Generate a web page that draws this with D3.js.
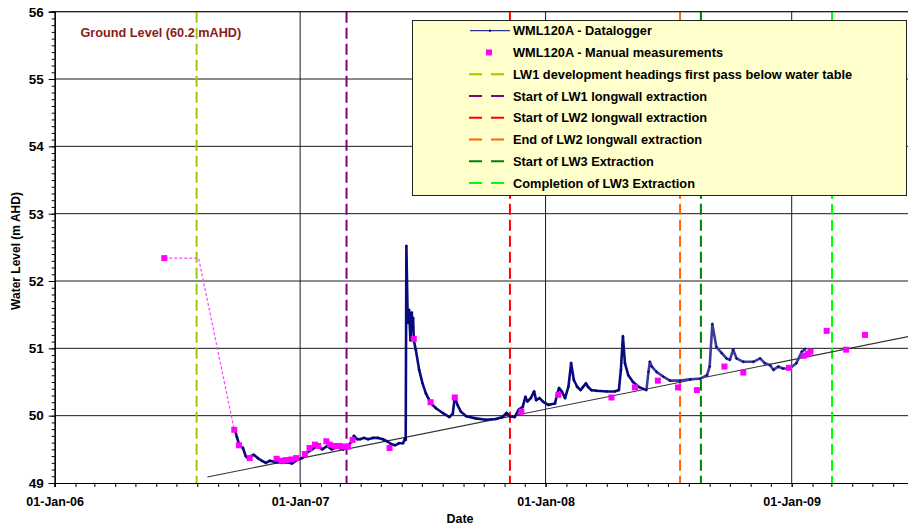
<!DOCTYPE html>
<html><head><meta charset="utf-8">
<script src="https://cdn.jsdelivr.net/npm/d3@7/dist/d3.min.js"></script>
<style>
html,body{margin:0;padding:0;background:#fff;}
svg{display:block;font-family:"Liberation Sans",Arial,sans-serif;}
</style></head>
<body><svg id="c" width="908" height="528"></svg>
<script>
// ---------- DATA ----------
const loggerDates = ["2006-09-26","2006-09-29","2006-10-03","2006-10-08","2006-10-12","2006-10-15","2006-10-20","2006-10-24","2006-10-30","2006-11-05","2006-11-11","2006-11-17","2006-11-26","2006-12-05","2006-12-12","2006-12-20","2006-12-27","2007-01-04","2007-01-11","2007-01-19","2007-01-26","2007-02-03","2007-02-10","2007-02-17","2007-02-25","2007-03-06","2007-03-13","2007-03-19","2007-03-22","2007-03-27","2007-03-31","2007-04-06","2007-04-12","2007-04-19","2007-04-27","2007-05-04","2007-05-10","2007-05-16","2007-05-22","2007-05-28","2007-06-03","2007-06-06","2007-06-07","2007-06-08","2007-06-10","2007-06-12","2007-06-14","2007-06-16","2007-06-17","2007-06-18","2007-06-19","2007-06-22","2007-06-27","2007-07-02","2007-07-07","2007-07-12","2007-07-17","2007-07-22","2007-08-01","2007-08-11","2007-08-16","2007-08-19","2007-08-23","2007-08-28","2007-09-05","2007-09-19","2007-10-04","2007-10-19","2007-10-29","2007-11-04","2007-11-09","2007-11-16","2007-11-22","2007-11-28","2007-12-02","2007-12-05","2007-12-10","2007-12-15","2007-12-18","2007-12-23","2007-12-28","2008-01-05","2008-01-15","2008-01-18","2008-01-21","2008-01-25","2008-01-30","2008-02-04","2008-02-08","2008-02-12","2008-02-17","2008-02-22","2008-02-26","2008-03-01","2008-03-04","2008-03-09","2008-03-17","2008-04-01","2008-04-13","2008-04-19","2008-04-22","2008-04-25","2008-04-28","2008-05-03","2008-05-10","2008-05-20","2008-05-30","2008-06-02","2008-06-04","2008-06-07","2008-06-14","2008-06-24","2008-07-04","2008-07-19","2008-08-03","2008-08-18","2008-08-28","2008-09-01","2008-09-05","2008-09-11","2008-09-19","2008-09-26","2008-10-01","2008-10-06","2008-10-11","2008-10-21","2008-11-05","2008-11-15","2008-11-22","2008-11-30","2008-12-05","2008-12-12","2008-12-19","2008-12-29","2009-01-08","2009-01-16","2009-01-21"];
const loggerLevels = [49.79,49.68,49.55,49.52,49.40,49.37,49.40,49.42,49.37,49.33,49.30,49.33,49.31,49.30,49.31,49.29,49.34,49.37,49.45,49.50,49.55,49.50,49.55,49.50,49.53,49.50,49.55,49.62,49.70,49.65,49.65,49.67,49.65,49.67,49.67,49.65,49.62,49.58,49.56,49.59,49.59,49.66,49.64,52.52,51.38,51.57,51.12,51.53,51.32,51.45,51.12,50.98,50.68,50.48,50.33,50.23,50.16,50.11,50.04,49.98,50.03,50.28,50.16,50.06,49.99,49.96,49.94,49.95,49.98,50.04,49.99,49.98,50.09,50.13,50.28,50.21,50.26,50.36,50.23,50.26,50.21,50.16,50.18,50.31,50.41,50.36,50.26,50.43,50.78,50.53,50.43,50.38,50.43,50.48,50.43,50.38,50.37,50.36,50.36,50.38,50.68,51.18,50.78,50.60,50.50,50.42,50.38,50.65,50.80,50.73,50.65,50.58,50.52,50.52,50.54,50.55,50.60,50.73,51.36,51.02,50.93,50.85,50.83,50.98,50.85,50.80,50.80,50.85,50.78,50.75,50.68,50.73,50.70,50.70,50.78,50.95,50.99];

const manualDates = ["2006-06-13","2006-09-25","2006-10-02","2006-10-18","2006-11-27","2006-12-04","2006-12-11","2006-12-19","2006-12-26","2007-01-08","2007-01-15","2007-01-23","2007-01-28","2007-02-09","2007-02-14","2007-02-22","2007-03-01","2007-03-08","2007-03-13","2007-03-20","2007-05-14","2007-06-19","2007-07-14","2007-08-19","2007-11-26","2008-01-20","2008-04-08","2008-05-13","2008-06-16","2008-07-16","2008-08-13","2008-09-23","2008-10-21","2008-12-28","2009-01-19","2009-01-25","2009-01-29","2009-02-22","2009-03-23","2009-04-20"];
const manualLevels = [52.34,49.79,49.56,49.37,49.36,49.33,49.34,49.35,49.37,49.43,49.52,49.57,49.55,49.62,49.57,49.55,49.55,49.54,49.54,49.64,49.52,51.14,50.20,50.27,50.06,50.31,50.27,50.42,50.52,50.42,50.38,50.73,50.64,50.71,50.89,50.92,50.95,51.26,50.98,51.20];

const connectorDates = ["2006-06-13","2006-08-03","2006-09-25"];
const connectorLevels = [52.34,52.34,49.79];

const trendDates = ["2006-08-16","2009-07-01"];
const trendLevels = [49.09,51.19];

const eventDates = ["2006-07-31","2007-03-11","2007-11-09","2008-07-19","2008-08-19","2009-03-02"];
const eventLabels = ["LW1 development headings first pass below water table","Start of LW1 longwall extraction","Start of LW2 longwall extraction","End of LW2 longwall extraction","Start of LW3 Extraction","Completion of LW3 Extraction"];

const seriesLabels = ["WML120A - Datalogger","WML120A - Manual measurements"];
const yTicks = [49,50,51,52,53,54,55,56];
const xTickDates = ["2006-01-01","2007-01-01","2008-01-01","2009-01-01"];
const groundLabel = "Ground Level (60.2 mAHD)";
const xTitle = "Date";
const yTitle = "Water Level (m AHD)";

// ---------- STYLE ----------
const eventColors = ["#99CC00","#800080","#FF0000","#FF6600","#008000","#00FF00"];
const P = d3.utcParse("%Y-%m-%d");
const L = 54.7, R = 913.4, T = 11.7, B = 483;

const svg = d3.select("#c");
svg.append("rect").attr("width",908).attr("height",528).attr("fill","#fff");

const x = d3.scaleUtc().domain([P("2006-01-01"), P("2009-07-01")]).range([L, R]);
const y = d3.scaleLinear().domain([49,56]).range([B, T]);

svg.append("defs").append("clipPath").attr("id","clip")
  .append("rect").attr("x",L).attr("y",T-1).attr("width",R-L).attr("height",B-T+2);

// gridlines
const grid = svg.append("g");
grid.selectAll("line.h").data(yTicks.filter(v=>v>49)).join("line")
  .attr("x1",L).attr("x2",R).attr("y1",d=>y(d)).attr("y2",d=>y(d))
  .attr("stroke","#1a1a1a").attr("stroke-width",1);
grid.selectAll("line.v").data(xTickDates.slice(1)).join("line")
  .attr("x1",d=>x(P(d))).attr("x2",d=>x(P(d))).attr("y1",T).attr("y2",B)
  .attr("stroke","#1a1a1a").attr("stroke-width",1);

// ground label
svg.append("text").attr("x",80.5).attr("y",37).text(groundLabel)
  .attr("fill","#8B1A1A").attr("font-weight","bold").attr("font-size","12.7px");

const plot = svg.append("g").attr("clip-path","url(#clip)");

// event lines
plot.selectAll("line.ev").data(eventDates).join("line")
  .attr("x1",d=>x(P(d))).attr("x2",d=>x(P(d))).attr("y1",T).attr("y2",B)
  .attr("stroke",(d,i)=>eventColors[i]).attr("stroke-width",2)
  .attr("stroke-dasharray","11,5");

// trend line
const trend = trendDates.map((d,i)=>[P(d),trendLevels[i]]);
plot.append("path").datum(trend)
  .attr("d",d3.line().x(d=>x(d[0])).y(d=>y(d[1])))
  .attr("fill","none").attr("stroke","#333").attr("stroke-width",1.1);

// connector
const conn = connectorDates.map((d,i)=>[P(d),connectorLevels[i]]);
plot.append("path").datum(conn)
  .attr("d",d3.line().x(d=>x(d[0])).y(d=>y(d[1])))
  .attr("fill","none").attr("stroke","#FF44FF").attr("stroke-width",1.2)
  .attr("stroke-dasharray","3,2");

// datalogger
const logger = loggerDates.map((d,i)=>[P(d),loggerLevels[i]]);
const split = P("2008-06-01");
const lineGen = d3.line().x(d=>x(d[0])).y(d=>y(d[1]));
const early = logger.filter(d=>d[0] <= split);
const late = logger.filter(d=>d[0] >= P("2008-05-30"));
plot.append("path").datum(early).attr("d",lineGen)
  .attr("fill","none").attr("stroke","#0a0a80").attr("stroke-width",2.6).attr("stroke-linejoin","round");
plot.append("path").datum(late).attr("d",lineGen)
  .attr("fill","none").attr("stroke","#3b3b9c").attr("stroke-width",2.6).attr("stroke-linejoin","round");
plot.selectAll("path.mk").data(logger).join("path")
  .attr("d",d=>`M${x(d[0])-1.5},${y(d[1])}h3M${x(d[0])},${y(d[1])-1.5}v3`)
  .attr("stroke","#000070").attr("stroke-width",0.8);

// manual
const manual = manualDates.map((d,i)=>[P(d),manualLevels[i]]);
plot.selectAll("rect.m").data(manual).join("rect")
  .attr("x",d=>x(d[0])-3).attr("y",d=>y(d[1])-3).attr("width",6).attr("height",6)
  .attr("fill","#FF00FF");

// axes
const yMinor = svg.append("g").attr("transform",`translate(${L},0)`)
  .call(d3.axisLeft(y).tickValues(d3.range(490,561).map(v=>v/10)).tickSize(3).tickFormat(""));
const yAx = svg.append("g").attr("transform",`translate(${L},0)`)
  .call(d3.axisLeft(y).tickValues(yTicks).tickSize(6).tickPadding(5).tickFormat(d3.format("d")));
const xMinor = svg.append("g").attr("transform",`translate(0,${B})`)
  .call(d3.axisBottom(x).tickValues(d3.utcMonth.range(P("2006-01-01"),P("2009-07-01"))).tickSize(4).tickFormat(""));
const xAx = svg.append("g").attr("transform",`translate(0,${B})`)
  .call(d3.axisBottom(x).tickValues(xTickDates.map(P)).tickSize(4).tickPadding(10).tickFormat(d3.utcFormat("%d-%b-%y")));
[yMinor,yAx,xMinor,xAx].forEach(g=>{
  g.select(".domain").attr("stroke","#000").attr("stroke-width",1.2);
  g.selectAll(".tick line").attr("stroke","#000");
  g.selectAll("text").attr("font-family","'Liberation Sans',Arial,sans-serif").attr("font-weight","bold").attr("fill","#000");
});
yAx.selectAll("text").attr("font-size","13.5px");
xAx.selectAll("text").attr("font-size","12.5px");
// top border
svg.append("line").attr("x1",L).attr("x2",R).attr("y1",T).attr("y2",T).attr("stroke","#1a1a1a");

// titles
svg.append("text").attr("x",460).attr("y",523).attr("text-anchor","middle").text(xTitle)
  .attr("font-weight","bold").attr("font-size","12.5px");
svg.append("text").attr("transform","translate(20,251) rotate(-90)").attr("text-anchor","middle").text(yTitle)
  .attr("font-weight","bold").attr("font-size","12px");

// legend
const lg = svg.append("g");
lg.append("rect").attr("x",412.5).attr("y",20.5).attr("width",494).attr("height",175)
  .attr("fill","#FFFFCC").attr("stroke","#222").attr("stroke-width",1);
const rowY = i => 30.7 + i*21.75;
const allLabels = seriesLabels.concat(eventLabels);
lg.selectAll("text").data(allLabels).join("text")
  .attr("x",513).attr("y",(d,i)=>rowY(i)+4.6).text(d=>d)
  .attr("font-weight","bold").attr("font-size","12.8px").attr("fill","#000");
lg.append("line").attr("x1",470).attr("x2",510).attr("y1",rowY(0)).attr("y2",rowY(0))
  .attr("stroke","#000080").attr("stroke-width",1);
lg.append("rect").attr("x",489).attr("y",rowY(0)-1).attr("width",2).attr("height",2).attr("fill","#000080");
lg.append("rect").attr("x",486).attr("y",rowY(1)-3).attr("width",6).attr("height",6).attr("fill","#FF00FF");
lg.selectAll("line.ls").data(eventLabels).join("line")
  .attr("x1",469).attr("x2",504).attr("y1",(d,i)=>rowY(i+2)).attr("y2",(d,i)=>rowY(i+2))
  .attr("stroke",(d,i)=>eventColors[i]).attr("stroke-width",2).attr("stroke-dasharray","13,9");
</script></body></html>
